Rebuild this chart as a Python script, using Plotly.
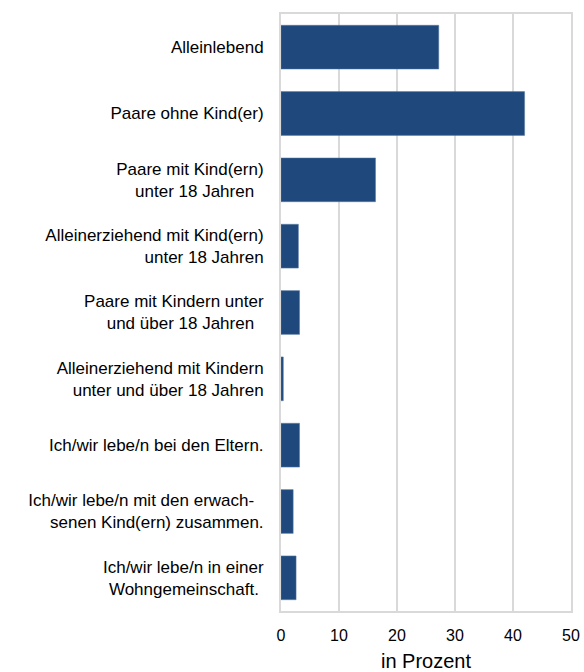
import plotly.graph_objects as go

NB = '\u00a0'

# categories (top to bottom) and values in percent
categories = [
    'Alleinlebend',
    'Paare ohne Kind(er)',
    'Paare mit Kind(ern)<br>unter 18 Jahren' + NB + NB,
    'Alleinerziehend mit Kind(ern)<br>unter 18 Jahren',
    'Paare mit Kindern unter<br>und über 18 Jahren' + NB + NB,
    'Alleinerziehend mit Kindern<br>unter und über 18 Jahren',
    'Ich/wir lebe/n bei den Eltern.',
    'Ich/wir lebe/n mit den erwach-' + NB + NB + '<br>senen Kind(ern) zusammen.',
    'Ich/wir lebe/n in einer<br>Wohngemeinschaft.' + NB,
]
values = [27.2, 42.0, 16.3, 3.0, 3.2, 0.4, 3.2, 2.1, 2.6]
x_ticks = [0, 10, 20, 30, 40, 50]

bar_color = '#1f497d'
grid_color = '#d9d9d9'
font_family = 'Liberation Sans, Arial, sans-serif'

fig = go.Figure()
fig.add_trace(go.Bar(
    x=values,
    y=categories,
    orientation='h',
    marker=dict(color=bar_color, line=dict(color='#5a7aa3', width=0.5)),
    width=0.66,
    hoverinfo='x+y',
))

fig.update_layout(
    width=584,
    height=672,
    margin=dict(l=281, r=13, t=14, b=61, autoexpand=False),
    plot_bgcolor='white',
    paper_bgcolor='white',
    showlegend=False,
    font=dict(family=font_family, color='black'),
    xaxis=dict(
        range=[0, 50],
        tickvals=x_ticks,
        showgrid=True,
        gridcolor=grid_color,
        gridwidth=2,
        showline=True,
        linecolor=grid_color,
        linewidth=2,
        mirror=True,
        zeroline=False,
        ticks='',
        ticklabelstandoff=9,
        tickfont=dict(size=16, family=font_family, color='black'),
        title=dict(text='in Prozent', font=dict(size=20, family=font_family, color='black'), standoff=12),
    ),
    yaxis=dict(
        categoryorder='array',
        categoryarray=categories,
        autorange='reversed',
        showgrid=False,
        showline=True,
        linecolor=grid_color,
        linewidth=2,
        mirror=True,
        ticks='',
        ticklabelstandoff=12,
        tickfont=dict(size=17, family=font_family, color='black'),
    ),
)

# drop the default page margin so the figure sits at the window's corner
fig.write_html('out.html', config={'displayModeBar': False},
               post_script="document.body.style.margin='0';")
